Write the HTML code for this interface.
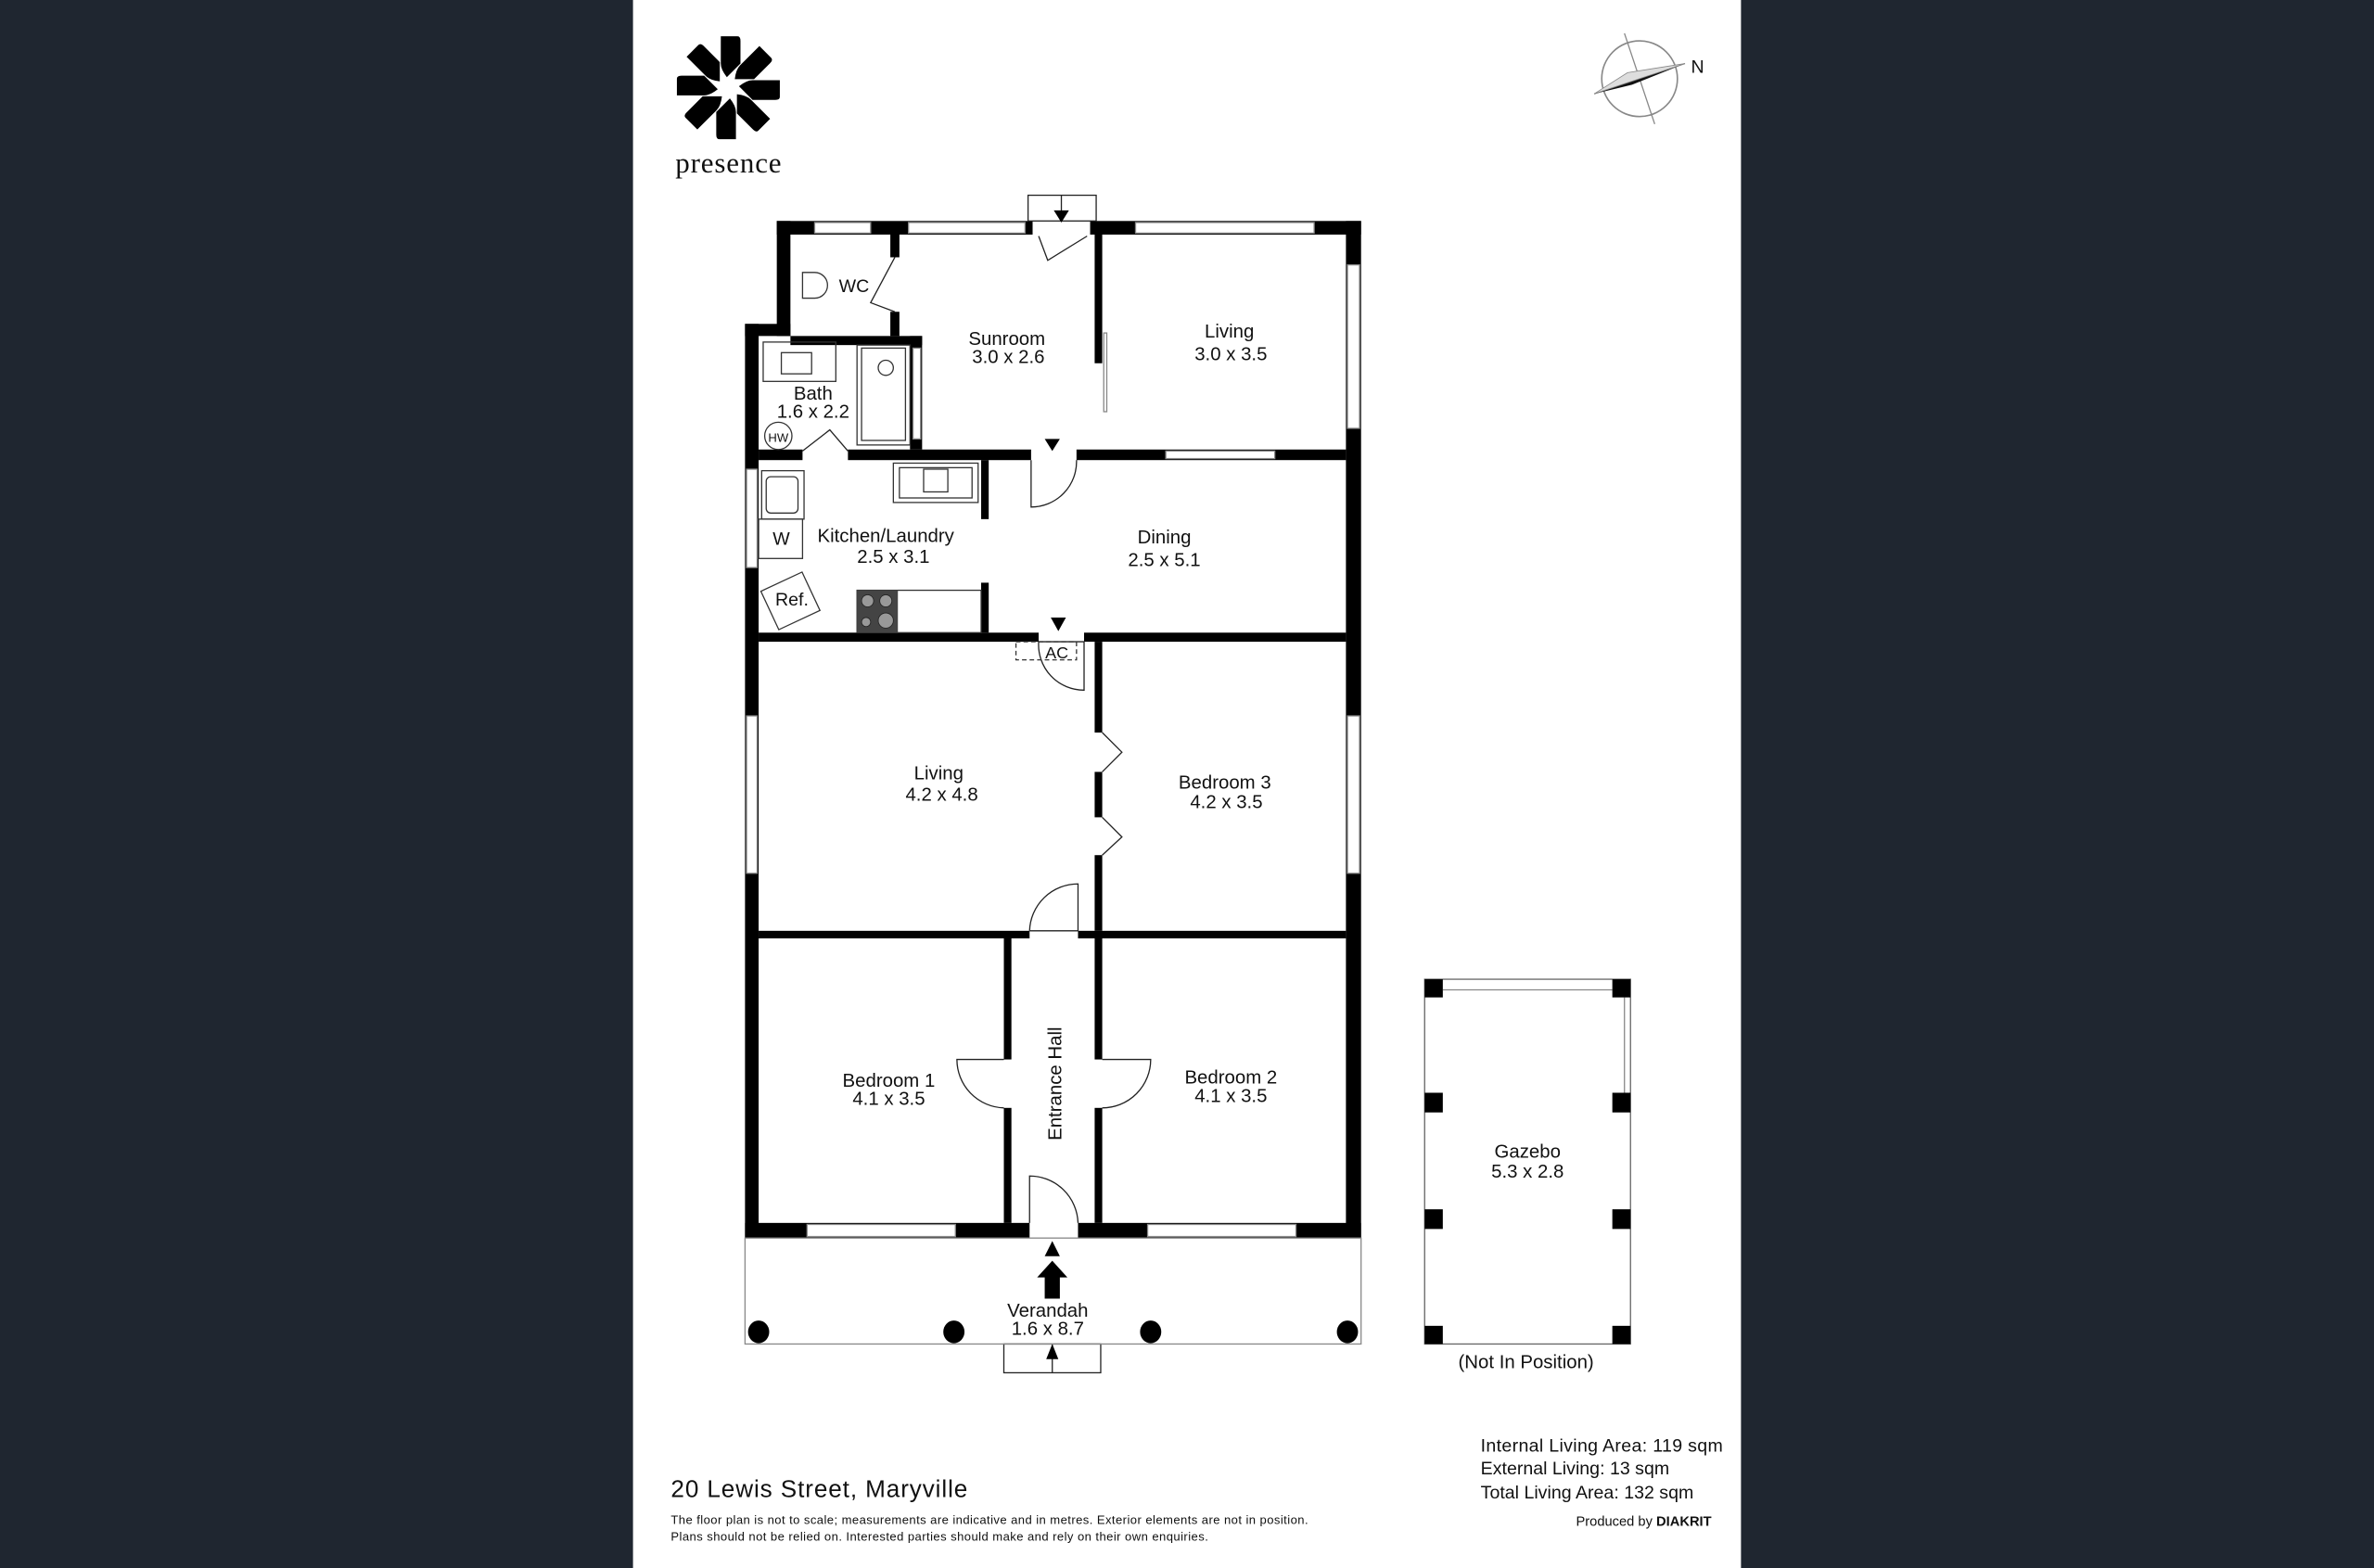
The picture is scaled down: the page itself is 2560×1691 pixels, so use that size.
<!DOCTYPE html>
<html><head><meta charset="utf-8"><style>
html,body{margin:0;padding:0;background:#1f2630;}
svg{display:block}
text{font-family:"Liberation Sans",sans-serif;fill:#111}
</style></head><body>
<svg width="2560" height="1691" viewBox="0 0 1568 1036" xmlns="http://www.w3.org/2000/svg">
<rect x="0" y="0" width="1568" height="1036" fill="#1f2630"/>
<rect x="418" y="0" width="732" height="1036" fill="#fff"/>

<!-- logo -->
<g fill="#000" transform="translate(481,58)">
  <g id="p"><path d="M-5,-34 L6,-34 Q8,-34 8,-31 L8,-16 L-1,-7 Q-5,-12 -5,-16 Z"/></g>
  <use href="#p" transform="rotate(45)"/><use href="#p" transform="rotate(90)"/><use href="#p" transform="rotate(135)"/>
  <use href="#p" transform="rotate(180)"/><use href="#p" transform="rotate(225)"/><use href="#p" transform="rotate(270)"/><use href="#p" transform="rotate(315)"/>
</g>
<text x="446" y="114" font-size="19" style="font-family:'Liberation Serif',serif" textLength="70">presence</text>

<!-- compass -->
<g transform="translate(1083,52)">
  <circle r="25" fill="none" stroke="#888" stroke-width="1"/>
  <line x1="-10" y1="-30" x2="10" y2="30" stroke="#888" stroke-width="0.8"/>
  <line x1="-30" y1="10" x2="30" y2="-10" stroke="#888" stroke-width="0.8"/>
  <polygon points="30,-10 -30,10 -5,4" fill="#111"/>
  <polygon points="30,-10 -30,10 -8,-4" fill="#ddd" stroke="#888" stroke-width="0.5"/>
</g>
<text x="1117" y="48" font-size="12">N</text>

<g fill="#000">
<rect x="513" y="146" width="386" height="9"/>
<rect x="889" y="146" width="10" height="672"/>
<rect x="513" y="146" width="9" height="76"/>
<rect x="492" y="214" width="30" height="8"/>
<rect x="492" y="214" width="9" height="604"/>
<rect x="492" y="808" width="407" height="10"/>
<rect x="501" y="297" width="388" height="7"/>
<rect x="501" y="418" width="388" height="6"/>
<rect x="501" y="615" width="388" height="5"/>
<rect x="723" y="155" width="5" height="85"/>
<rect x="723" y="424" width="5" height="60"/>
<rect x="723" y="510" width="5" height="30"/>
<rect x="723" y="565" width="5" height="50"/>
<rect x="663" y="620" width="5" height="80"/>
<rect x="663" y="732" width="5" height="76"/>
<rect x="723" y="620" width="5" height="80"/>
<rect x="723" y="732" width="5" height="76"/>
<rect x="522" y="222" width="87" height="6"/>
<rect x="601" y="222" width="8" height="75"/>
<rect x="588" y="155" width="6" height="15"/>
<rect x="588" y="206" width="6" height="16"/>
<rect x="648" y="304" width="5" height="39"/>
<rect x="648" y="385" width="5" height="33"/>
</g>
<g fill="#fff">
<rect x="682" y="145" width="38" height="11"/>
<rect x="681" y="296" width="30" height="9"/>
<rect x="686" y="417" width="30" height="8"/>
<rect x="680" y="614" width="32" height="7"/>
<rect x="680" y="807" width="32" height="12"/>
<rect x="530" y="296" width="30" height="9"/>
</g>
<g fill="#fff" stroke="#888" stroke-width="0.8">
<rect x="538" y="147" width="37" height="7"/>
<rect x="600" y="147" width="77" height="7"/>
<rect x="750" y="147" width="118" height="7"/>
<rect x="890" y="175" width="8" height="108"/>
<rect x="770" y="298" width="72" height="5"/>
<rect x="493" y="310" width="7" height="65"/>
<rect x="493" y="473" width="7" height="104"/>
<rect x="890" y="473" width="8" height="104"/>
<rect x="533" y="809" width="98" height="8"/>
<rect x="758" y="809" width="98" height="8"/>
<rect x="603" y="230" width="5" height="60"/>
<rect x="729" y="220" width="2" height="52"/>
</g>
<g fill="none" stroke="#222" stroke-width="0.8">
<path d="M686,156 L692,172 L718,156"/>
<path d="M681,304 L681,335 A30,30 0 0 0 711,304"/>
<path d="M686,424 L716,424 L716,456 A30,30 0 0 1 686,424"/>
<path d="M680,615 L712,615 L712,584 A32,32 0 0 0 680,615"/>
<path d="M680,808 L680,777 A32,32 0 0 1 712,808"/>
<path d="M663,700 L632,700 A32,32 0 0 0 663,732"/>
<path d="M728,700 L760,700 A32,32 0 0 1 728,732"/>
<path d="M728,484 L741,497 L728,510"/>
<path d="M728,540 L741,553 L728,565"/>
<path d="M530,298 L548,284 L560,298"/>
<path d="M591,170 L575,200 L591,206"/>
<rect x="679" y="129" width="45" height="17"/>
<rect x="663" y="888" width="64" height="19"/>
<line x1="695" y1="888" x2="695" y2="907"/>
<line x1="701" y1="129" x2="701" y2="140"/>
</g>
<g fill="#000">
<polygon points="696,139 706,139 701,147"/>
<polygon points="690,290 700,290 695,298"/>
<polygon points="694,408 704,408 699,417"/>
<polygon points="690,830 700,830 695,820"/>
<polygon points="695,833 705,844 700,844 700,858 690,858 690,844 685,844"/>
<polygon points="691,898 699,898 695,888"/>
</g>

<g fill="none" stroke="#333" stroke-width="0.8">
<path d="M538,180 L530,180 L530,197 L538,197 A8,8 0 0 0 538,180 Z"/>
<rect x="504" y="226" width="48" height="26"/>
<rect x="516" y="233" width="20" height="14"/>
<rect x="566" y="228" width="35" height="66"/>
<rect x="569" y="230" width="29" height="61"/>
<circle cx="585" cy="243" r="5"/>
<circle cx="514" cy="288" r="9"/>
<rect x="590" y="306" width="56" height="26"/>
<rect x="594" y="309" width="48" height="20"/>
<rect x="610" y="310" width="16" height="15"/>
<rect x="503" y="311" width="28" height="32"/>
<rect x="506" y="315" width="21" height="24" rx="3"/>
<rect x="501" y="343" width="29" height="26"/>
<rect x="507" y="383" width="30" height="28" transform="rotate(-25 522 397)"/>
<rect x="566" y="390" width="82" height="28"/>
<rect x="671" y="424" width="40" height="12" stroke-dasharray="3,2"/>
</g>
<text x="514" y="292" font-size="8" text-anchor="middle">HW</text>
<rect x="566" y="390" width="27" height="28" fill="#444"/>
<g fill="#999" stroke="#222" stroke-width="0.5">
<circle cx="573" cy="397" r="4"/><circle cx="585" cy="397" r="4"/>
<circle cx="572" cy="411" r="3"/><circle cx="585" cy="410" r="5"/>
</g>

<rect x="492" y="818" width="407" height="70" fill="none" stroke="#888" stroke-width="0.8"/>
<g fill="#000">
<ellipse cx="501" cy="880" rx="7" ry="7.5"/><ellipse cx="630" cy="880" rx="7" ry="7.5"/>
<ellipse cx="760" cy="880" rx="7" ry="7.5"/><ellipse cx="890" cy="880" rx="7" ry="7.5"/>
</g>

<rect x="941" y="647" width="136" height="241" fill="none" stroke="#666" stroke-width="0.8"/>
<line x1="953" y1="654" x2="1065" y2="654" stroke="#888" stroke-width="0.8"/>
<line x1="1073" y1="659" x2="1073" y2="722" stroke="#888" stroke-width="0.8"/>
<g fill="#000">
<rect x="941" y="647" width="12" height="12"/><rect x="1065" y="647" width="12" height="12"/>
<rect x="941" y="722" width="12" height="13"/><rect x="1065" y="722" width="12" height="13"/>
<rect x="941" y="799" width="12" height="13"/><rect x="1065" y="799" width="12" height="13"/>
<rect x="941" y="876" width="12" height="12"/><rect x="1065" y="876" width="12" height="12"/>
</g>

<g font-size="12.5" text-anchor="middle">
<text x="665" y="228">Sunroom</text><text x="666" y="240">3.0 x 2.6</text>
<text x="812" y="223">Living</text><text x="813" y="238">3.0 x 3.5</text>
<text x="537" y="264">Bath</text><text x="537" y="276">1.6 x 2.2</text>
<text x="585" y="358">Kitchen/Laundry</text><text x="590" y="372">2.5 x 3.1</text>
<text x="769" y="359">Dining</text><text x="769" y="374">2.5 x 5.1</text>
<text x="620" y="515">Living</text><text x="622" y="529">4.2 x 4.8</text>
<text x="809" y="521">Bedroom 3</text><text x="810" y="534">4.2 x 3.5</text>
<text x="587" y="718">Bedroom 1</text><text x="587" y="730">4.1 x 3.5</text>
<text x="813" y="716">Bedroom 2</text><text x="813" y="728">4.1 x 3.5</text>
<text x="692" y="870">Verandah</text><text x="692" y="882">1.6 x 8.7</text>
<text x="1009" y="765">Gazebo</text><text x="1009" y="778">5.3 x 2.8</text>
<text x="1008" y="904">(Not In Position)</text>
<text x="698" y="435" font-size="11">AC</text>
<text x="516" y="360" font-size="12">W</text>
<text x="523" y="400" font-size="12">Ref.</text>
<text x="564" y="193" font-size="12">WC</text>
<text transform="translate(701,716) rotate(-90)" font-size="12.5">Entrance Hall</text>
</g>

<text x="443" y="989" font-size="16" textLength="196">20 Lewis Street, Maryville</text>
<text x="443" y="1007" font-size="8" textLength="421">The floor plan is not to scale; measurements are indicative and in metres. Exterior elements are not in position.</text>
<text x="443" y="1018" font-size="8" textLength="355">Plans should not be relied on. Interested parties should make and rely on their own enquiries.</text>
<text x="978" y="959" font-size="12" textLength="160">Internal Living Area: 119 sqm</text>
<text x="978" y="974" font-size="12">External Living: 13 sqm</text>
<text x="978" y="990" font-size="12">Total Living Area: 132 sqm</text>
<text x="1041" y="1008" font-size="9">Produced by <tspan font-weight="bold">DIAKRIT</tspan></text>
</svg>
</body></html>
